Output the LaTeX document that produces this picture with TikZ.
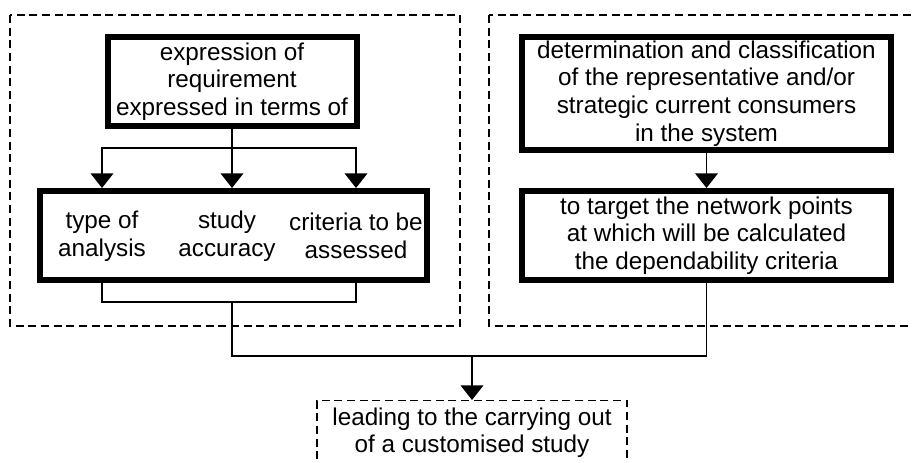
\documentclass[tikz,border=0pt]{standalone}
\usepackage{fontspec}
\setmainfont{Liberation Sans}
\usetikzlibrary{arrows.meta}
\usetikzlibrary{positioning}
\tikzstyle{arrow} = [line width=1.2pt,-{Triangle[width=17pt,length=11pt]}]
\tikzstyle{link} = [line width=1.2pt]
\tikzstyle{thickbox} = [draw=black, line width=4.5pt, align=center, inner sep=0pt]
\tikzstyle{dashgroup} = [draw=black, line width=1pt, dash pattern=on 6pt off 3.5pt]
\tikzstyle{txt} = [align=center, inner sep=0pt]
\begin{document}
\begin{tikzpicture}[x=0.75pt, y=-0.75pt, font=\fontsize{18.2}{20.8}\selectfont]
		\clip (0,0) rectangle (912,462);
		% dashed groups
		\draw [dashgroup] (10,15) rectangle (460,326);
		\draw [dashgroup] (489,15) rectangle (940,326);
		% left group
		\node (expr) [thickbox, minimum width=186.75pt, minimum height=66.75pt] at (232,81.5) {expression of\\requirement\\expressed in terms of};
		\node (sel) [thickbox, minimum width=290.25pt, minimum height=66.75pt] at (233.5,235.5) {};
		\node (t1) [txt] at (102,236) {type of\\analysis};
		\node (t2) [txt] at (227,236) {study\\accuracy};
		\node (t3) [txt] at (356,236) {criteria to be\\assessed};
		\coordinate (split) at (232,148);
		\draw [link] (expr.south) -- (split);
		\draw [arrow] (split) -| (t1 |- sel.north);
		\draw [arrow] (split) -- (split |- sel.north);
		\draw [arrow] (split) -| (t3 |- sel.north);
		% right group
		\node (cons) [thickbox, minimum width=276.75pt, minimum height=84.75pt] at (706.5,93.5) {determination and classification\\of the representative and/or\\strategic current consumers\\in the system};
		\node (target) [thickbox, minimum width=276.75pt, minimum height=66.75pt] at (706.5,235.5) {to target the network points\\at which will be calculated\\the dependability criteria};
		\draw [arrow] (cons.south) -- (target.north);
		% result
		\node (study) [dashgroup, txt, minimum width=232.5pt, minimum height=48pt, anchor=north] at (472,400) {leading to the carrying out\\of a customised study};
		\coordinate (join) at (232,302);
		\coordinate (merge) at (472,356);
		\draw [link] (t1 |- sel.south) -- ++(0,19) -| (t3 |- sel.south);
		\draw [link] (join) |- (merge) -| (target.south);
		\draw [arrow] (merge) -- (study.north);
\end{tikzpicture}
\end{document}
